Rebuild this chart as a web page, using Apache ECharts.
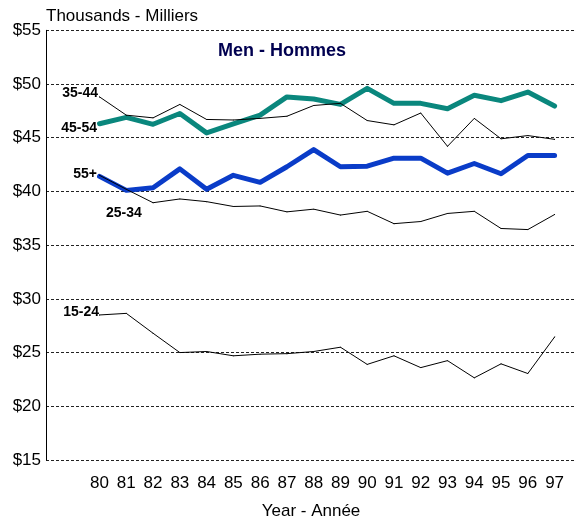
<!DOCTYPE html>
<html>
<head>
<meta charset="utf-8">
<script src="https://cdn.jsdelivr.net/npm/echarts@6/dist/echarts.min.js"></script>
<style>
html,body{margin:0;padding:0;background:#fff;}
#c{width:576px;height:520px;}
</style>
</head>
<body>
<div id="c"></div>
<script>
var years = [80,81,82,83,84,85,86,87,88,89,90,91,92,93,94,95,96,97];
var age15_24 = [28.5, 28.65, 26.8, 25.0, 25.1, 24.7, 24.85, 24.9, 25.1, 25.5, 23.9, 24.7, 23.6, 24.25, 22.65, 23.95, 23.05, 26.45];
var age25_34 = [41.5, 40.2, 38.95, 39.3, 39.05, 38.6, 38.65, 38.1, 38.35, 37.8, 38.15, 37.0, 37.2, 37.95, 38.15, 36.55, 36.45, 37.85];
var age35_44 = [48.8, 47.1, 46.85, 48.1, 46.7, 46.65, 46.8, 47.0, 48.0, 48.2, 46.6, 46.2, 47.3, 44.2, 46.8, 44.9, 45.2, 44.85];
var age45_54 = [46.3, 46.9, 46.25, 47.25, 45.45, 46.3, 47.1, 48.8, 48.6, 48.1, 49.6, 48.2, 48.2, 47.7, 48.95, 48.45, 49.25, 47.95];
var age55 = [41.4, 40.1, 40.35, 42.1, 40.2, 41.5, 40.85, 42.3, 43.9, 42.3, 42.35, 43.1, 43.1, 41.7, 42.6, 41.65, 43.35, 43.35];
var yTicks = [15,20,25,30,35,40,45,50,55];

var FONT = "'Liberation Sans', Arial, sans-serif";

function mk(name, vals, color, width, lab) {
  var data = years.map(function (y, i) { return [y, vals[i]]; });
  data[0] = {
    value: data[0],
    label: Object.assign({
      show: true, formatter: name, color: '#000', fontFamily: FONT,
      fontWeight: 'bold', fontSize: 14
    }, lab)
  };
  return {
    type: 'line', name: name, data: data,
    symbol: 'circle', symbolSize: 1, showSymbol: true, showAllSymbol: true,
    itemStyle: { color: color },
    lineStyle: { color: color, width: width, cap: 'round', join: 'round' },
    emphasis: { disabled: true },
    animation: false, z: width > 2 ? 2 : 3
  };
}

var chart = echarts.init(document.getElementById('c'), null, { renderer: 'canvas' });
chart.setOption({
  backgroundColor: '#fff',
  animation: false,
  title: [{
    text: 'Men - Hommes', left: 218, top: 42, padding: 0,
    textStyle: { fontFamily: FONT, fontSize: 18, fontWeight: 'bold', color: '#000050' }
  }, {
    text: 'Thousands - Milliers', left: 46, top: 8, padding: 0,
    textStyle: { fontFamily: FONT, fontSize: 17, fontWeight: 'normal', color: '#000' }
  }],
  grid: { left: 46, top: 30.3, right: 0, bottom: 60, containLabel: false, outerBoundsMode: 'none' },
  xAxis: {
    type: 'value', min: 78, max: 97.8,
    axisLine: { show: false }, axisTick: { show: false }, splitLine: { show: false },
    axisLabel: { customValues: years, margin: 15, fontSize: 17, color: '#000', fontFamily: FONT },
    name: 'Year - Année', nameLocation: 'middle', nameGap: 43,
    nameTextStyle: { fontSize: 17, color: '#000', fontFamily: FONT }
  },
  yAxis: {
    type: 'value', min: 15, max: 55, interval: 5,
    axisLine: { show: true, lineStyle: { color: '#000', width: 1 } },
    axisTick: { show: false },
    axisLabel: { margin: 5, fontSize: 17, color: '#000', fontFamily: FONT,
      formatter: function (v) { return '$' + v; } },
    splitLine: { show: true, lineStyle: { color: '#222', width: 1, type: [3, 2] } }
  },
  series: [
    mk('45-54', age45_54, '#0a877d', 5, { position: 'left', distance: 2, offset: [0, 4.5] }),
    mk('55+', age55, '#0a3cc8', 5, { position: 'left', distance: 2, offset: [0, -2] }),
    mk('35-44', age35_44, '#000', 1, { position: 'left', distance: 1, offset: [0, -3.5] }),
    mk('25-34', age25_34, '#000', 1, { position: 'right', distance: 5, offset: [1, 38] }),
    mk('15-24', age15_24, '#000', 1, { position: 'left', distance: 0, offset: [0, -3] })
  ]
});
</script>
</body>
</html>
